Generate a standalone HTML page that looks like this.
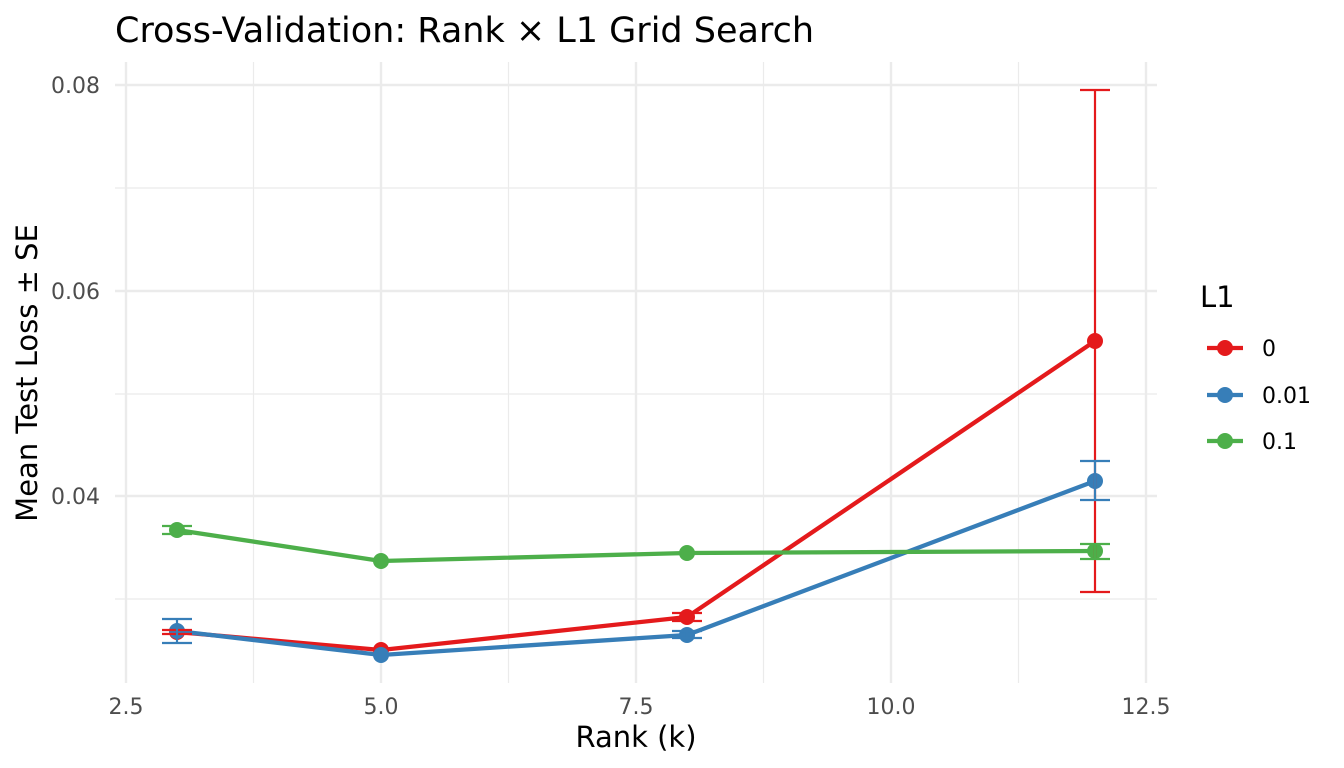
<!DOCTYPE html>
<html><head><style>body{margin:0;background:#fff}svg{display:block}</style></head><body>
<svg width="1344" height="768" xmlns="http://www.w3.org/2000/svg" font-family="DejaVu Sans, Liberation Sans, sans-serif">
<rect width="1344" height="768" fill="#fff"/>
<g stroke="#ebebeb" stroke-width="1.2">
<line x1="115" x2="1157" y1="188" y2="188"/><line x1="115" x2="1157" y1="394" y2="394"/><line x1="115" x2="1157" y1="599" y2="599"/>
<line y1="62" y2="683" x1="253.5" x2="253.5"/><line y1="62" y2="683" x1="508.5" x2="508.5"/><line y1="62" y2="683" x1="763.5" x2="763.5"/><line y1="62" y2="683" x1="1018.5" x2="1018.5"/>
</g>
<g stroke="#ebebeb" stroke-width="2.4">
<line x1="115" x2="1157" y1="85" y2="85"/><line x1="115" x2="1157" y1="291" y2="291"/><line x1="115" x2="1157" y1="496" y2="496"/>
<line y1="62" y2="683" x1="126" x2="126"/><line y1="62" y2="683" x1="381" x2="381"/><line y1="62" y2="683" x1="636" x2="636"/><line y1="62" y2="683" x1="891" x2="891"/><line y1="62" y2="683" x1="1146" x2="1146"/>
</g>
<g fill="none" stroke-width="4.3" stroke-linejoin="round">
<polyline stroke="#e41a1c" points="177,632 381,650 687,617 1095,341"/>
<polyline stroke="#377eb8" points="177,631 381,655 687,635 1095,481"/>
<polyline stroke="#4daf4a" points="177,530 381,561 687,553 1095,551"/>
</g>
<g fill="#e41a1c"><circle cx="177" cy="632" r="8"/><circle cx="381" cy="650" r="8"/><circle cx="687" cy="617" r="8"/><circle cx="1095" cy="341" r="8"/></g>
<g fill="#377eb8"><circle cx="177" cy="631" r="8"/><circle cx="381" cy="655" r="8"/><circle cx="687" cy="635" r="8"/><circle cx="1095" cy="481" r="8"/></g>
<g fill="#4daf4a"><circle cx="177" cy="530" r="8"/><circle cx="381" cy="561" r="8"/><circle cx="687" cy="553" r="8"/><circle cx="1095" cy="551" r="8"/></g>
<g fill="none" stroke-width="2.2">
<path stroke="#e41a1c" d="M162,630H192M162,634H192M177,630V634 M672,613H702M672,621H702M687,613V621 M1080,90H1110M1080,592H1110M1095,90V592"/>
<path stroke="#377eb8" d="M162,619H192M162,643H192M177,619V643 M672,631H702M672,638H702M687,631V638 M1080,461H1110M1080,500H1110M1095,461V500"/>
<path stroke="#4daf4a" d="M162,526H192M162,534H192M177,526V534 M1080,544H1110M1080,559H1110M1095,544V559"/>
</g>
<g fill="#4d4d4d" font-size="22" text-anchor="end">
<text x="100" y="93">0.08</text><text x="100" y="299">0.06</text><text x="100" y="504">0.04</text>
</g>
<g fill="#4d4d4d" font-size="22" text-anchor="middle">
<text x="126" y="714">2.5</text><text x="381" y="714">5.0</text><text x="636" y="714">7.5</text><text x="891" y="714">10.0</text><text x="1146" y="714">12.5</text>
</g>
<text x="636" y="747" font-size="29" text-anchor="middle" fill="#000">Rank (k)</text>
<text transform="translate(37,373) rotate(-90)" font-size="29" text-anchor="middle" fill="#000">Mean Test Loss ± SE</text>
<text x="115" y="42" font-size="35" fill="#000">Cross-Validation: Rank × L1 Grid Search</text>
<text x="1200" y="307" font-size="29" fill="#000">L1</text>
<g stroke-width="4.3"><line x1="1207" x2="1243" y1="348" y2="348" stroke="#e41a1c"/><line x1="1207" x2="1243" y1="395" y2="395" stroke="#377eb8"/><line x1="1207" x2="1243" y1="441" y2="441" stroke="#4daf4a"/></g>
<circle cx="1225" cy="348" r="8" fill="#e41a1c"/><circle cx="1225" cy="395" r="8" fill="#377eb8"/><circle cx="1225" cy="441" r="8" fill="#4daf4a"/>
<g font-size="22" fill="#000"><text x="1262" y="356">0</text><text x="1262" y="403">0.01</text><text x="1262" y="449">0.1</text></g>
</svg>
</body></html>
